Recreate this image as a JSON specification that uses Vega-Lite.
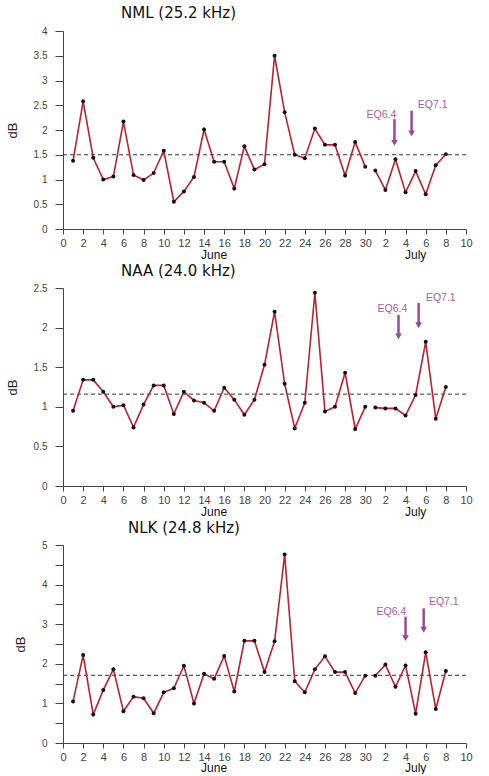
{
  "$schema": "https://vega.github.io/schema/vega-lite/v6.json",
  "background": "white",
  "padding": {"left": 6, "top": 6, "right": 5, "bottom": 0},
  "spacing": 59,
  "bounds": "flush",
  "datasets": {
    "obs": [
      {"station":"NML","month":"June","day":1,"dB":1.38},{"station":"NML","month":"June","day":2,"dB":2.58},{"station":"NML","month":"June","day":3,"dB":1.44},{"station":"NML","month":"June","day":4,"dB":1.0},{"station":"NML","month":"June","day":5,"dB":1.06},{"station":"NML","month":"June","day":6,"dB":2.17},{"station":"NML","month":"June","day":7,"dB":1.09},{"station":"NML","month":"June","day":8,"dB":0.99},{"station":"NML","month":"June","day":9,"dB":1.13},{"station":"NML","month":"June","day":10,"dB":1.58},{"station":"NML","month":"June","day":11,"dB":0.55},{"station":"NML","month":"June","day":12,"dB":0.76},{"station":"NML","month":"June","day":13,"dB":1.05},{"station":"NML","month":"June","day":14,"dB":2.01},{"station":"NML","month":"June","day":15,"dB":1.36},{"station":"NML","month":"June","day":16,"dB":1.36},{"station":"NML","month":"June","day":17,"dB":0.82},{"station":"NML","month":"June","day":18,"dB":1.67},{"station":"NML","month":"June","day":19,"dB":1.2},{"station":"NML","month":"June","day":20,"dB":1.31},{"station":"NML","month":"June","day":21,"dB":3.5},{"station":"NML","month":"June","day":22,"dB":2.36},{"station":"NML","month":"June","day":23,"dB":1.5},{"station":"NML","month":"June","day":24,"dB":1.43},{"station":"NML","month":"June","day":25,"dB":2.03},{"station":"NML","month":"June","day":26,"dB":1.7},{"station":"NML","month":"June","day":27,"dB":1.7},{"station":"NML","month":"June","day":28,"dB":1.08},{"station":"NML","month":"June","day":29,"dB":1.76},{"station":"NML","month":"June","day":30,"dB":1.26},
      {"station":"NML","month":"July","day":31,"dB":1.18},{"station":"NML","month":"July","day":32,"dB":0.79},{"station":"NML","month":"July","day":33,"dB":1.41},{"station":"NML","month":"July","day":34,"dB":0.74},{"station":"NML","month":"July","day":35,"dB":1.17},{"station":"NML","month":"July","day":36,"dB":0.7},{"station":"NML","month":"July","day":37,"dB":1.29},{"station":"NML","month":"July","day":38,"dB":1.51},
      {"station":"NAA","month":"June","day":1,"dB":0.95},{"station":"NAA","month":"June","day":2,"dB":1.34},{"station":"NAA","month":"June","day":3,"dB":1.34},{"station":"NAA","month":"June","day":4,"dB":1.19},{"station":"NAA","month":"June","day":5,"dB":1.0},{"station":"NAA","month":"June","day":6,"dB":1.02},{"station":"NAA","month":"June","day":7,"dB":0.74},{"station":"NAA","month":"June","day":8,"dB":1.03},{"station":"NAA","month":"June","day":9,"dB":1.27},{"station":"NAA","month":"June","day":10,"dB":1.27},{"station":"NAA","month":"June","day":11,"dB":0.91},{"station":"NAA","month":"June","day":12,"dB":1.19},{"station":"NAA","month":"June","day":13,"dB":1.08},{"station":"NAA","month":"June","day":14,"dB":1.05},{"station":"NAA","month":"June","day":15,"dB":0.95},{"station":"NAA","month":"June","day":16,"dB":1.24},{"station":"NAA","month":"June","day":17,"dB":1.09},{"station":"NAA","month":"June","day":18,"dB":0.9},{"station":"NAA","month":"June","day":19,"dB":1.09},{"station":"NAA","month":"June","day":20,"dB":1.53},{"station":"NAA","month":"June","day":21,"dB":2.2},{"station":"NAA","month":"June","day":22,"dB":1.29},{"station":"NAA","month":"June","day":23,"dB":0.73},{"station":"NAA","month":"June","day":24,"dB":1.05},{"station":"NAA","month":"June","day":25,"dB":2.44},{"station":"NAA","month":"June","day":26,"dB":0.94},{"station":"NAA","month":"June","day":27,"dB":1.0},{"station":"NAA","month":"June","day":28,"dB":1.43},{"station":"NAA","month":"June","day":29,"dB":0.72},{"station":"NAA","month":"June","day":30,"dB":1.0},
      {"station":"NAA","month":"July","day":31,"dB":0.99},{"station":"NAA","month":"July","day":32,"dB":0.98},{"station":"NAA","month":"July","day":33,"dB":0.98},{"station":"NAA","month":"July","day":34,"dB":0.89},{"station":"NAA","month":"July","day":35,"dB":1.15},{"station":"NAA","month":"July","day":36,"dB":1.82},{"station":"NAA","month":"July","day":37,"dB":0.85},{"station":"NAA","month":"July","day":38,"dB":1.25},
      {"station":"NLK","month":"June","day":1,"dB":1.05},{"station":"NLK","month":"June","day":2,"dB":2.22},{"station":"NLK","month":"June","day":3,"dB":0.72},{"station":"NLK","month":"June","day":4,"dB":1.34},{"station":"NLK","month":"June","day":5,"dB":1.86},{"station":"NLK","month":"June","day":6,"dB":0.8},{"station":"NLK","month":"June","day":7,"dB":1.17},{"station":"NLK","month":"June","day":8,"dB":1.13},{"station":"NLK","month":"June","day":9,"dB":0.75},{"station":"NLK","month":"June","day":10,"dB":1.28},{"station":"NLK","month":"June","day":11,"dB":1.38},{"station":"NLK","month":"June","day":12,"dB":1.95},{"station":"NLK","month":"June","day":13,"dB":1.0},{"station":"NLK","month":"June","day":14,"dB":1.75},{"station":"NLK","month":"June","day":15,"dB":1.62},{"station":"NLK","month":"June","day":16,"dB":2.2},{"station":"NLK","month":"June","day":17,"dB":1.3},{"station":"NLK","month":"June","day":18,"dB":2.58},{"station":"NLK","month":"June","day":19,"dB":2.58},{"station":"NLK","month":"June","day":20,"dB":1.79},{"station":"NLK","month":"June","day":21,"dB":2.57},{"station":"NLK","month":"June","day":22,"dB":4.76},{"station":"NLK","month":"June","day":23,"dB":1.56},{"station":"NLK","month":"June","day":24,"dB":1.28},{"station":"NLK","month":"June","day":25,"dB":1.86},{"station":"NLK","month":"June","day":26,"dB":2.19},{"station":"NLK","month":"June","day":27,"dB":1.79},{"station":"NLK","month":"June","day":28,"dB":1.79},{"station":"NLK","month":"June","day":29,"dB":1.26},{"station":"NLK","month":"June","day":30,"dB":1.7},
      {"station":"NLK","month":"July","day":31,"dB":1.7},{"station":"NLK","month":"July","day":32,"dB":1.98},{"station":"NLK","month":"July","day":33,"dB":1.42},{"station":"NLK","month":"July","day":34,"dB":1.96},{"station":"NLK","month":"July","day":35,"dB":0.74},{"station":"NLK","month":"July","day":36,"dB":2.29},{"station":"NLK","month":"July","day":37,"dB":0.86},{"station":"NLK","month":"July","day":38,"dB":1.82}
    ],
    "baseline": [
      {"station":"NML","level":1.5},{"station":"NAA","level":1.16},{"station":"NLK","level":1.71}
    ],
    "eq": [
      {"station":"NML","event":"EQ6.4","day":32.9,"top":2.22,"bottom":1.74,"lx":31.6,"ly":2.3},
      {"station":"NML","event":"EQ7.1","day":34.6,"top":2.39,"bottom":1.93,"lx":36.7,"ly":2.5},
      {"station":"NAA","event":"EQ6.4","day":33.3,"top":2.16,"bottom":1.89,"lx":32.7,"ly":2.23},
      {"station":"NAA","event":"EQ7.1","day":35.3,"top":2.31,"bottom":2.03,"lx":37.5,"ly":2.37},
      {"station":"NLK","event":"EQ6.4","day":34.0,"top":3.19,"bottom":2.65,"lx":32.6,"ly":3.3},
      {"station":"NLK","event":"EQ7.1","day":35.8,"top":3.4,"bottom":2.86,"lx":37.8,"ly":3.57}
    ],
    "months": [
      {"label":"June","day":15},{"label":"July","day":35}
    ]
  },
  "vconcat": [
    {
      "width": 403, "height": 198,
      "title": {"text": "NML (25.2 kHz)", "anchor": "start", "frame": "group", "dx": 58, "offset": 5},
      "encoding": {
        "x": {"type": "quantitative", "scale": {"domain": [0, 40]}, "axis": {"values": [0,2,4,6,8,10,12,14,16,18,20,22,24,26,28,30,32,34,36,38,40], "labelOverlap": false, "labelExpr": "datum.value > 30 ? datum.value - 30 : datum.value", "title": null}},
        "y": {"type": "quantitative", "scale": {"domain": [0, 4]}, "axis": {"values": [0,0.5,1,1.5,2,2.5,3,3.5,4], "labelOverlap": false, "labelExpr": "format(datum.value, '.2~f')", "title": "dB"}}
      },
      "layer": [
        {"data": {"name": "baseline"}, "transform": [{"filter": "datum.station == 'NML'"}],
         "mark": {"type": "rule", "strokeDash": [4, 3], "color": "#333", "strokeWidth": 1},
         "encoding": {"y": {"field": "level"}, "x": null}},
        {"data": {"name": "obs"}, "transform": [{"filter": "datum.station == 'NML'"}],
         "mark": {"type": "line", "color": "#b8232e", "strokeWidth": 1.6},
         "encoding": {"x": {"field": "day"}, "y": {"field": "dB"}, "detail": {"field": "month"}}},
        {"data": {"name": "obs"}, "transform": [{"filter": "datum.station == 'NML'"}],
         "mark": {"type": "point", "filled": true, "color": "#111", "size": 16, "opacity": 1},
         "encoding": {"x": {"field": "day"}, "y": {"field": "dB"}}},
        {"data": {"name": "eq"}, "transform": [{"filter": "datum.station == 'NML'"}],
         "mark": {"type": "rule", "color": "#9a4b96", "strokeWidth": 2.5},
         "encoding": {"x": {"field": "day"}, "y": {"field": "top"}, "y2": {"field": "bottom"}}},
        {"data": {"name": "eq"}, "transform": [{"filter": "datum.station == 'NML'"}],
         "mark": {"type": "point", "shape": "triangle-down", "filled": true, "color": "#9a4b96", "size": 45, "opacity": 1},
         "encoding": {"x": {"field": "day"}, "y": {"field": "bottom"}}},
        {"data": {"name": "eq"}, "transform": [{"filter": "datum.station == 'NML'"}],
         "mark": {"type": "text", "color": "#a35ea3", "fontSize": 10.5, "font": "Liberation Sans", "baseline": "middle"},
         "encoding": {"x": {"field": "lx"}, "y": {"field": "ly"}, "text": {"field": "event"}}},
        {"data": {"name": "months"},
         "mark": {"type": "text", "fontSize": 12, "font": "Liberation Sans", "color": "#111", "dy": 26, "baseline": "middle"},
         "encoding": {"x": {"field": "day"}, "y": {"datum": 0}, "text": {"field": "label"}}}
      ]
    },
    {
      "width": 403, "height": 198,
      "title": {"text": "NAA (24.0 kHz)", "anchor": "start", "frame": "group", "dx": 58, "offset": 4},
      "encoding": {
        "x": {"type": "quantitative", "scale": {"domain": [0, 40]}, "axis": {"values": [0,2,4,6,8,10,12,14,16,18,20,22,24,26,28,30,32,34,36,38,40], "labelOverlap": false, "labelExpr": "datum.value > 30 ? datum.value - 30 : datum.value", "title": null}},
        "y": {"type": "quantitative", "scale": {"domain": [0, 2.5]}, "axis": {"values": [0,0.5,1,1.5,2,2.5], "labelOverlap": false, "labelExpr": "format(datum.value, '.2~f')", "title": "dB"}}
      },
      "layer": [
        {"data": {"name": "baseline"}, "transform": [{"filter": "datum.station == 'NAA'"}],
         "mark": {"type": "rule", "strokeDash": [4, 3], "color": "#333", "strokeWidth": 1},
         "encoding": {"y": {"field": "level"}, "x": null}},
        {"data": {"name": "obs"}, "transform": [{"filter": "datum.station == 'NAA'"}],
         "mark": {"type": "line", "color": "#b8232e", "strokeWidth": 1.6},
         "encoding": {"x": {"field": "day"}, "y": {"field": "dB"}, "detail": {"field": "month"}}},
        {"data": {"name": "obs"}, "transform": [{"filter": "datum.station == 'NAA'"}],
         "mark": {"type": "point", "filled": true, "color": "#111", "size": 16, "opacity": 1},
         "encoding": {"x": {"field": "day"}, "y": {"field": "dB"}}},
        {"data": {"name": "eq"}, "transform": [{"filter": "datum.station == 'NAA'"}],
         "mark": {"type": "rule", "color": "#9a4b96", "strokeWidth": 2.5},
         "encoding": {"x": {"field": "day"}, "y": {"field": "top"}, "y2": {"field": "bottom"}}},
        {"data": {"name": "eq"}, "transform": [{"filter": "datum.station == 'NAA'"}],
         "mark": {"type": "point", "shape": "triangle-down", "filled": true, "color": "#9a4b96", "size": 45, "opacity": 1},
         "encoding": {"x": {"field": "day"}, "y": {"field": "bottom"}}},
        {"data": {"name": "eq"}, "transform": [{"filter": "datum.station == 'NAA'"}],
         "mark": {"type": "text", "color": "#a35ea3", "fontSize": 10.5, "font": "Liberation Sans", "baseline": "middle"},
         "encoding": {"x": {"field": "lx"}, "y": {"field": "ly"}, "text": {"field": "event"}}},
        {"data": {"name": "months"},
         "mark": {"type": "text", "fontSize": 12, "font": "Liberation Sans", "color": "#111", "dy": 26, "baseline": "middle"},
         "encoding": {"x": {"field": "day"}, "y": {"datum": 0}, "text": {"field": "label"}}}
      ]
    },
    {
      "width": 403, "height": 198,
      "title": {"text": "NLK (24.8 kHz)", "anchor": "start", "frame": "group", "dx": 65, "offset": 4},
      "encoding": {
        "x": {"type": "quantitative", "scale": {"domain": [0, 40]}, "axis": {"values": [0,2,4,6,8,10,12,14,16,18,20,22,24,26,28,30,32,34,36,38,40], "labelOverlap": false, "labelExpr": "datum.value > 30 ? datum.value - 30 : datum.value", "title": null}},
        "y": {"type": "quantitative", "scale": {"domain": [0, 5]}, "axis": {"values": [0,0.5,1,1.5,2,2.5,3,3.5,4,4.5,5], "labelOverlap": false, "labelExpr": "datum.value % 1 == 0 ? format(datum.value, 'd') : ''", "title": "dB"}}
      },
      "layer": [
        {"data": {"name": "baseline"}, "transform": [{"filter": "datum.station == 'NLK'"}],
         "mark": {"type": "rule", "strokeDash": [4, 3], "color": "#333", "strokeWidth": 1},
         "encoding": {"y": {"field": "level"}, "x": null}},
        {"data": {"name": "obs"}, "transform": [{"filter": "datum.station == 'NLK'"}],
         "mark": {"type": "line", "color": "#b8232e", "strokeWidth": 1.6},
         "encoding": {"x": {"field": "day"}, "y": {"field": "dB"}, "detail": {"field": "month"}}},
        {"data": {"name": "obs"}, "transform": [{"filter": "datum.station == 'NLK'"}],
         "mark": {"type": "point", "filled": true, "color": "#111", "size": 16, "opacity": 1},
         "encoding": {"x": {"field": "day"}, "y": {"field": "dB"}}},
        {"data": {"name": "eq"}, "transform": [{"filter": "datum.station == 'NLK'"}],
         "mark": {"type": "rule", "color": "#9a4b96", "strokeWidth": 2.5},
         "encoding": {"x": {"field": "day"}, "y": {"field": "top"}, "y2": {"field": "bottom"}}},
        {"data": {"name": "eq"}, "transform": [{"filter": "datum.station == 'NLK'"}],
         "mark": {"type": "point", "shape": "triangle-down", "filled": true, "color": "#9a4b96", "size": 45, "opacity": 1},
         "encoding": {"x": {"field": "day"}, "y": {"field": "bottom"}}},
        {"data": {"name": "eq"}, "transform": [{"filter": "datum.station == 'NLK'"}],
         "mark": {"type": "text", "color": "#a35ea3", "fontSize": 10.5, "font": "Liberation Sans", "baseline": "middle"},
         "encoding": {"x": {"field": "lx"}, "y": {"field": "ly"}, "text": {"field": "event"}}},
        {"data": {"name": "months"},
         "mark": {"type": "text", "fontSize": 12, "font": "Liberation Sans", "color": "#111", "dy": 25, "baseline": "middle"},
         "encoding": {"x": {"field": "day"}, "y": {"datum": 0}, "text": {"field": "label"}}}
      ]
    }
  ],
  "config": {
    "view": {"stroke": null},
    "title": {"font": "DejaVu Sans", "fontSize": 15, "fontWeight": "normal", "color": "#111"},
    "axis": {"grid": false, "labelOverlap": false, "domainColor": "#444", "tickColor": "#444", "labelColor": "#444", "labelFont": "Liberation Sans", "titleFont": "Liberation Sans", "titleFontWeight": "normal", "titleColor": "#222", "titleFontSize": 13},
    "axisX": {"labelFontSize": 11, "tickSize": 5, "labelPadding": 3, "labelFlush": false},
    "axisY": {"labelFontSize": 10, "tickSize": 8, "labelPadding": 8, "titlePadding": 14}
  }
}
